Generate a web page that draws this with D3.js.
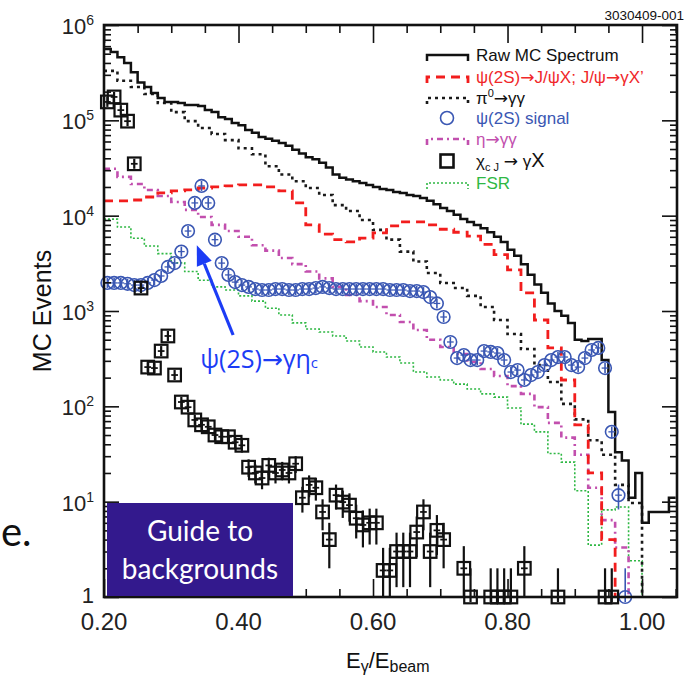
<!DOCTYPE html>
<html>
<head>
<meta charset="utf-8">
<script src="https://cdn.jsdelivr.net/npm/d3@7"></script>
<style>
  html, body { margin: 0; padding: 0; background: #fff; }
  svg { display: block; font-family: "Liberation Sans", Arial, sans-serif; }
</style>
</head>
<body>
<div id="chart"></div>
<script>
// histogram bins start at E/Ebeam = 0.20
const binStart = 0.2;
const fineWidth = 0.01;    // raw spectrum, signal, chi_cJ
const coarseWidth = 0.02;  // background curves

const rawMC = [5.6e5,5.2e5,4.6e5,4.0e5,3.2e5,2.5e5,2.24e5,1.94e5,1.71e5,1.56e5,
  1.56e5,1.52e5,1.45e5,1.45e5,1.41e5,1.28e5,1.22e5,1.08e5,1.03e5,9.4e4,
  8.9e4,7.9e4,7.4e4,6.7e4,6.4e4,6.1e4,5.8e4,5.4e4,4.9e4,4.5e4,
  4.1e4,3.9e4,3.6e4,3.2e4,2.7e4,2.5e4,2.4e4,2.3e4,2.2e4,2.1e4,
  2.0e4,1.9e4,1.86e4,1.77e4,1.73e4,1.65e4,1.61e4,1.53e4,1.43e4,1.32e4,
  1.2e4,1.12e4,1.02e4,9.2e3,8.6e3,8.0e3,7.4e3,6.7e3,6.0e3,5.3e3,
  4.4e3,3.8e3,3.1e3,2.4e3,1.9e3,1.55e3,1.2e3,1.0e3,890,750,
  500,485,510,510,306,87,33,27,11,20,
  6,7.8,7.8,7.8,11];

const jpsiX = [1.43e4,1.43e4,1.46e4,1.57e4,1.73e4,1.82e4,1.86e4,1.95e4,2.0e4,2.05e4,
  2.1e4,2.1e4,2.0e4,1.82e4,1.36e4,8.0e3,6.4e3,5.6e3,5.3e3,5.8e3,
  6.6e3,7.8e3,8.6e3,8.6e3,8.0e3,7.2e3,6.7e3,6.1e3,5.0e3,3.9e3,
  2.7e3,1.55e3,805,410,189,64,20,4.0,0];

const pi0 = [3.3e5,2.6e5,2.24e5,1.89e5,1.52e5,1.22e5,9.8e4,8.3e4,7.2e4,6.2e4,
  5.1e4,4.4e4,3.3e4,2.7e4,2.3e4,1.95e4,1.65e4,1.29e4,1.12e4,9.0e3,
  7.1e3,5.6e3,4.2e3,3.3e3,2.5e3,1.97e3,1.74e3,1.44e3,1.1e3,805,
  574,400,271,180,106,73,44,31,15,9.7,0];

const eta = [3.1e4,2.55e4,2.15e4,1.86e4,1.61e4,1.39e4,1.15e4,9.7e3,8.0e3,6.9e3,
  6.0e3,4.9e3,4.3e3,3.6e3,3.1e3,2.6e3,2.2e3,1.79e3,1.47e3,1.27e3,
  1.1e3,908,766,632,500,419,354,292,246,208,
  163,135,98,67,47,31,14,6.4,3.3,0];

const fsr = [9.2e3,7.6e3,5.8e3,4.8e3,4.0e3,3.2e3,2.6e3,2.1e3,1.79e3,1.66e3,
  1.44e3,1.27e3,1.07e3,908,750,647,603,547,485,419,
  372,329,285,229,203,189,171,152,135,125,
  96,65,54,32,26,13,3.5,8.2,8.8,2.4,0];

const signal = [1.97e3,1.97e3,1.97e3,1.93e3,1.87e3,1.87e3,1.97e3,2.11e3,2.33e3,2.9e3,
  3.18e3,4.2e3,6.9e3,1.36e4,2.05e4,1.36e4,5.6e3,3.18e3,2.39e3,2.01e3,
  1.87e3,1.79e3,1.7e3,1.66e3,1.66e3,1.7e3,1.7e3,1.66e3,1.66e3,1.7e3,
  1.7e3,1.74e3,1.79e3,1.74e3,1.7e3,1.7e3,1.7e3,1.7e3,1.7e3,1.7e3,
  1.7e3,1.7e3,1.66e3,1.66e3,1.66e3,1.62e3,1.62e3,1.58e3,1.4e3,1.2e3,
  865,473,321,345,306,306,380,372,362,306,
  229,240,189,213,229,271,306,329,329,271,
  258,321,390,410,252,54,11.7,1,0,0,
  0,0,0,0,0];

const chicJ = [1.56e5,1.76e5,1.28e5,9.8e4,3.5e4,1.74e3,258,252,380,547,
  213,111,98,72,64,61,50,48,48,42,
  39,23,20,17.7,24,20,21.5,20,25,11,
  15,14,7.8,4.0,11.7,9.9,9.2,6.7,5.7,6.0,
  6.0,1.9,1.9,3.0,3.0,3.0,4.8,7.8,3.0,5.0,
  4.0,0,0,2.0,1,0,0,1,1,1,
  1,0,2.0,0,0,0,0,1,0,0,
  0,0,0,0,1,1,0,0,0,0,
  0,0,0,0,0];

const xTickLabels = [0.2, 0.4, 0.6, 0.8, 1.0];
const yDecades = [0, 1, 2, 3, 4, 5, 6];

// legend text, as [text, "sub"|"sup"] pieces
const legendLabels = [
  [["Raw MC Spectrum"]],
  [["ψ(2S)→J/ψX; J/ψ→γX’"]],
  [["π"], ["0", "sup"], ["→γγ"]],
  [["ψ(2S) signal"]],
  [["η→γγ"]],
  [["χ"], ["c J", "sub"], [" → γ"], ["X"]],
  [["FSR"]]
];

// annotation arrow in data coordinates
const arrowTail = [0.392, 560];
const arrowTip = [0.338, 4900];
const arrowLabelAt = [0.343, 252];

const W = 691, H = 677;
const svg = d3.select("#chart").append("svg").attr("width", W).attr("height", H);

const x = d3.scaleLinear().domain([0.2, 1.052]).range([104, 677]);
const y = d3.scaleLog().domain([1, 1e6]).range([597, 25]);
const yBottom = y(1);

svg.append("clipPath").attr("id", "plot-clip")
  .append("rect").attr("x", 104).attr("y", 25).attr("width", 573).attr("height", 572);

const plot = svg.append("g").attr("clip-path", "url(#plot-clip)");

function stepPath(values, width) {
  const p = d3.path();
  values.forEach((v, i) => {
    const x0 = x(binStart + i * width), x1 = x(binStart + (i + 1) * width);
    const yy = v > 0 ? y(v) : yBottom + 20;
    if (i === 0) p.moveTo(x0, yy); else p.lineTo(x0, yy);
    p.lineTo(x1, yy);
  });
  return p.toString();
}

const curves = [
  { data: fsr, width: coarseWidth, color: "#2fb844", sw: 1.6, dash: "2,2" },
  { data: eta, width: coarseWidth, color: "#c24fae", sw: 2.6, dash: "6,4,2,4" },
  { data: pi0, width: coarseWidth, color: "#1a1a1a", sw: 2.6, dash: "3,4" },
  { data: jpsiX, width: coarseWidth, color: "#f21d1d", sw: 2.8, dash: "9,6" },
  { data: rawMC, width: fineWidth, color: "#111", sw: 2.5, dash: null }
];
curves.forEach(c => {
  plot.append("path")
    .attr("d", stepPath(c.data, c.width))
    .attr("fill", "none")
    .attr("stroke", c.color)
    .attr("stroke-width", c.sw)
    .attr("stroke-dasharray", c.dash);
});

// points with statistical error bars
function drawPoints(values, kind) {
  const g = svg.append("g");
  const half = (x(binStart + fineWidth) - x(binStart)) / 2;
  values.forEach((v, i) => {
    if (v <= 0) return;
    const cx = x(binStart + (i + 0.5) * fineWidth);
    const cy = y(v);
    const err = Math.sqrt(v);
    const yHi = y(v + err);
    const yLo = v - err >= 1 ? y(v - err) : yBottom;
    const color = kind === "circle" ? "#3a57b3" : "#111";
    const sw = kind === "circle" ? 1.6 : 2.2;
    g.append("line").attr("x1", cx).attr("x2", cx)
      .attr("y1", Math.min(yHi, cy - 5)).attr("y2", Math.max(yLo, cy + 5))
      .attr("stroke", color).attr("stroke-width", sw);
    g.append("line").attr("x1", cx - half).attr("x2", cx + half)
      .attr("y1", cy).attr("y2", cy)
      .attr("stroke", color).attr("stroke-width", sw * 0.8);
    if (kind === "circle") {
      g.append("circle").attr("cx", cx).attr("cy", cy).attr("r", 6.3)
        .attr("fill", "none").attr("stroke", color).attr("stroke-width", sw);
    } else {
      g.append("rect").attr("x", cx - 6.3).attr("y", cy - 6.3)
        .attr("width", 12.6).attr("height", 12.6)
        .attr("fill", "none").attr("stroke", color).attr("stroke-width", sw);
    }
  });
}
drawPoints(signal, "circle");
drawPoints(chicJ, "square");

// axes: ticks point inward
const yMinor = [];
for (let d = 0; d < 6; d++) for (let k = 2; k < 10; k++) yMinor.push(k * Math.pow(10, d));
const yMajor = yDecades.map(e => Math.pow(10, e));
const xMinor = d3.range(0.25, 1.051, 0.05).map(v => +v.toFixed(2)).filter(v => !xTickLabels.includes(v));

function tickGroup(axis, tx, ty) {
  const g = svg.append("g").attr("transform", `translate(${tx},${ty})`).call(axis);
  g.select(".domain").remove();
  g.selectAll("text").remove();
  g.selectAll("line").attr("stroke", "#111").attr("stroke-width", 1.6);
  return g;
}
tickGroup(d3.axisLeft(y).tickValues(yMajor).tickSize(-15), 104, 0);
tickGroup(d3.axisLeft(y).tickValues(yMinor).tickSize(-7), 104, 0);
tickGroup(d3.axisRight(y).tickValues(yMajor).tickSize(-15), 677, 0);
tickGroup(d3.axisRight(y).tickValues(yMinor).tickSize(-7), 677, 0);
tickGroup(d3.axisBottom(x).tickValues(xTickLabels).tickSize(-18), 0, 597);
tickGroup(d3.axisBottom(x).tickValues(xMinor).tickSize(-8), 0, 597);
tickGroup(d3.axisTop(x).tickValues(xTickLabels).tickSize(-18), 0, 25);
tickGroup(d3.axisTop(x).tickValues(xMinor).tickSize(-8), 0, 25);

svg.append("rect").attr("x", 104).attr("y", 25).attr("width", 573).attr("height", 572)
  .attr("fill", "none").attr("stroke", "#111").attr("stroke-width", 2.6);

// tick labels
svg.append("g").selectAll("text").data(xTickLabels).join("text")
  .attr("x", d => x(d)).attr("y", 630)
  .attr("text-anchor", "middle").attr("font-size", 24).attr("fill", "#222")
  .text(d3.format(".2f"));

yDecades.forEach(e => {
  const t = svg.append("text").attr("x", 94).attr("y", y(Math.pow(10, e)) + (e === 0 ? 6 : 9))
    .attr("text-anchor", "end").attr("font-size", 22).attr("fill", "#222");
  if (e === 0) { t.text("1"); return; }
  t.append("tspan").text("10");
  t.append("tspan").attr("dy", -9).attr("font-size", 14).text(e);
});

// axis titles
svg.append("text").attr("transform", "translate(51,311) rotate(-90)")
  .attr("text-anchor", "middle").attr("font-size", 25).attr("fill", "#111")
  .text("MC Events");

const xt = svg.append("text").attr("x", 346).attr("y", 668).attr("font-size", 22).attr("fill", "#111");
xt.append("tspan").text("E");
xt.append("tspan").attr("dy", 4).attr("font-size", 16).text("γ");
xt.append("tspan").attr("dy", -4).text("/E");
xt.append("tspan").attr("dy", 4).attr("font-size", 16).text("beam");

svg.append("text").attr("x", 684).attr("y", 20).attr("text-anchor", "end")
  .attr("font-size", 13.5).attr("fill", "#111").text("3030409-001");

// writes a piece of text, drawing arrows with a font that has a long arrow glyph
function appendPieces(t, s, size, dy) {
  s.split(/(→)/).filter(p => p.length).forEach((p, k) => {
    const sp = t.append("tspan").attr("font-size", size).text(p);
    if (k === 0 && dy) sp.attr("dy", dy);
    if (p === "→") sp.attr("font-family", "'DejaVu Sans', sans-serif");
  });
}

// legend
const legendStyles = [
  { color: "#111", text: "#111", sw: 2.5, dash: null, mark: "line" },
  { color: "#f21d1d", text: "#f0282a", sw: 2.8, dash: "9,6", mark: "line" },
  { color: "#1a1a1a", text: "#111", sw: 2.6, dash: "3,4", mark: "line" },
  { color: "#3a57b3", text: "#3a57b3", mark: "circle" },
  { color: "#c24fae", text: "#c24fae", sw: 2.6, dash: "6,4,2,4", mark: "line" },
  { color: "#111", text: "#111", mark: "square" },
  { color: "#2fb844", text: "#2fb844", sw: 1.6, dash: "2,2", mark: "line" }
];
const legendRowY = [55, 77, 98, 118, 139, 161, 183];
const legend = svg.append("g");
legendLabels.forEach((parts, i) => {
  const st = legendStyles[i], cy = legendRowY[i];
  if (st.mark === "line") {
    legend.append("path").attr("d", `M427,${cy + 6}V${cy}H468V${cy + 6}`)
      .attr("fill", "none").attr("stroke", st.color).attr("stroke-width", st.sw)
      .attr("stroke-dasharray", st.dash);
  } else if (st.mark === "circle") {
    legend.append("circle").attr("cx", 447).attr("cy", cy).attr("r", 6.5)
      .attr("fill", "none").attr("stroke", st.color).attr("stroke-width", 1.6);
  } else {
    legend.append("rect").attr("x", 440.5).attr("y", cy - 6.5).attr("width", 13).attr("height", 13)
      .attr("fill", "none").attr("stroke", st.color).attr("stroke-width", 2.6);
  }
  const t = legend.append("text").attr("x", 476).attr("y", cy + 6).attr("fill", st.text);
  let shift = 0;
  parts.forEach(([s, mode]) => {
    const target = mode === "sub" ? 4 : mode === "sup" ? -7 : 0;
    appendPieces(t, s, mode ? 11 : (s === "X" ? 20 : 17), target - shift);
    shift = target;
  });
});

// eta_c annotation
const blue = "#1c3cf5";
const [tx0, ty0] = [x(arrowTail[0]), y(arrowTail[1])];
const [tx1, ty1] = [x(arrowTip[0]), y(arrowTip[1])];
const ang = Math.atan2(ty1 - ty0, tx1 - tx0);
const headLen = 20, headW = 8;
const bx = tx1 - headLen * Math.cos(ang), by = ty1 - headLen * Math.sin(ang);
svg.append("line").attr("x1", tx0).attr("y1", ty0).attr("x2", bx).attr("y2", by)
  .attr("stroke", blue).attr("stroke-width", 3.2);
svg.append("path")
  .attr("d", `M${tx1},${ty1}L${bx + headW * Math.sin(ang)},${by - headW * Math.cos(ang)}L${bx - headW * Math.sin(ang)},${by + headW * Math.cos(ang)}Z`)
  .attr("fill", blue);
const at = svg.append("text").attr("x", x(arrowLabelAt[0])).attr("y", y(arrowLabelAt[1]))
  .attr("font-family", "'Open Sans', sans-serif").attr("fill", blue);
appendPieces(at, "ψ(2S)→γη", 25);
at.append("tspan").attr("font-size", 15).text("c");

// slide overlay box
svg.append("rect").attr("x", 107).attr("y", 503).attr("width", 186).attr("height", 93)
  .attr("fill", "#33198d");
svg.append("text").attr("x", 200).attr("y", 541).attr("text-anchor", "middle")
  .attr("font-family", "Lato, sans-serif").attr("font-size", 28).attr("fill", "#fff")
  .text("Guide to");
svg.append("text").attr("x", 200).attr("y", 579).attr("text-anchor", "middle")
  .attr("font-family", "Lato, sans-serif").attr("font-size", 28).attr("fill", "#fff")
  .text("backgrounds");

// fragment of slide text at left
svg.append("text").attr("x", 1).attr("y", 546)
  .attr("font-family", "Lato, sans-serif").attr("font-size", 40).attr("fill", "#111")
  .text("e.");
</script>
</body>
</html>
